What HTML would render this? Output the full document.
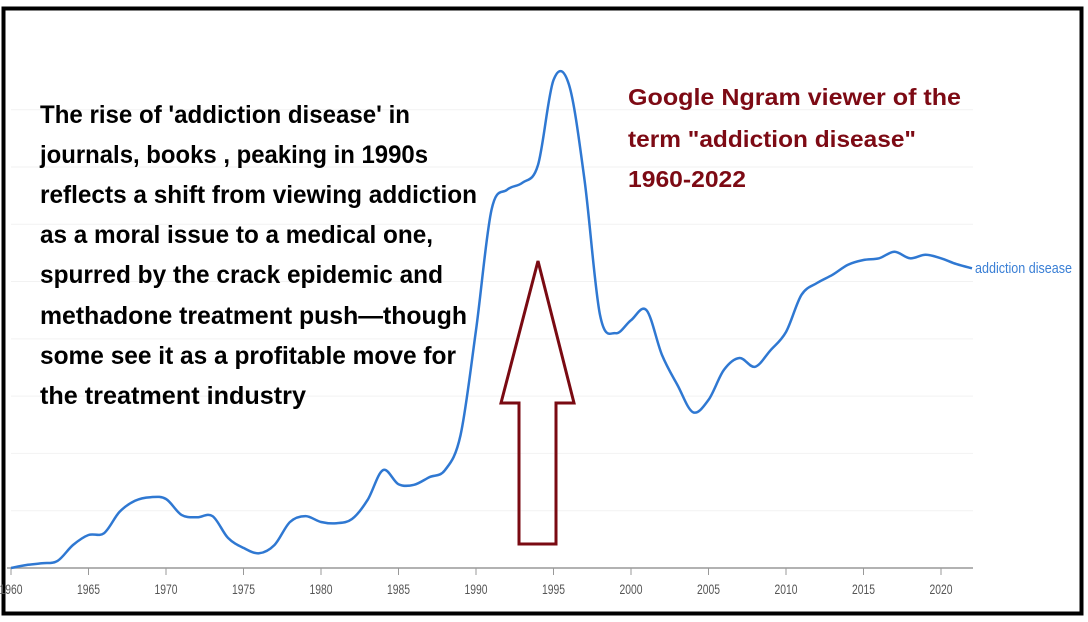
<!DOCTYPE html>
<html><head><meta charset="utf-8"><style>
html,body{margin:0;padding:0;background:#fff;}
svg{display:block;}
</style></head><body>
<svg id="chart" width="1088" height="622" xmlns="http://www.w3.org/2000/svg">
<rect x="3.5" y="8.5" width="1078" height="605" fill="#fff" stroke="#000" stroke-width="4"/>
<g id="grid"></g>
<g id="axis"></g>
<path id="series" fill="none" stroke="#2f78d2" stroke-width="2.5" stroke-linejoin="round"/>
<text x="975" y="273" font-family="Liberation Sans, sans-serif" font-size="15" fill="#3a7fd5" textLength="97" lengthAdjust="spacingAndGlyphs">addiction disease</text>
<path d="M538,261 L574,403 L556,403 L556,544 L519,544 L519,403 L501,403 Z" fill="none" stroke="#7a0a12" stroke-width="3" stroke-linejoin="miter"/>
<g font-family="Liberation Sans, sans-serif" font-weight="bold" font-size="25" fill="#000">
<text x="40" y="123" textLength="370" lengthAdjust="spacingAndGlyphs">The rise of 'addiction disease' in</text>
<text x="40" y="163" textLength="388" lengthAdjust="spacingAndGlyphs">journals, books , peaking in 1990s</text>
<text x="40" y="203" textLength="437" lengthAdjust="spacingAndGlyphs">reflects a shift from viewing addiction</text>
<text x="40" y="243" textLength="393" lengthAdjust="spacingAndGlyphs">as a moral issue to a medical one,</text>
<text x="40" y="283" textLength="403" lengthAdjust="spacingAndGlyphs">spurred by the crack epidemic and</text>
<text x="40" y="324" textLength="427" lengthAdjust="spacingAndGlyphs">methadone treatment push—though</text>
<text x="40" y="364" textLength="416" lengthAdjust="spacingAndGlyphs">some see it as a profitable move for</text>
<text x="40" y="404" textLength="266" lengthAdjust="spacingAndGlyphs">the treatment industry</text>
</g>
<g font-family="Liberation Sans, sans-serif" font-weight="bold" font-size="23" fill="#7d0a14">
<text x="628" y="105" textLength="333" lengthAdjust="spacingAndGlyphs">Google Ngram viewer of the</text>
<text x="628" y="147" textLength="288" lengthAdjust="spacingAndGlyphs">term "addiction disease"</text>
<text x="628" y="187" textLength="118" lengthAdjust="spacingAndGlyphs">1960-2022</text>
</g>
</svg>
<script>
const years = [];
for (let y = 1960; y <= 2022; y++) years.push(y);
const values = [0,0.05,0.08,0.12,0.39,0.56,0.59,0.95,1.14,1.20,
1.17,0.90,0.86,0.88,0.51,0.34,0.25,0.39,0.78,0.88,
0.78,0.76,0.83,1.15,1.66,1.42,1.41,1.54,1.66,2.25,
4.03,6.07,6.41,6.53,6.83,8.27,8.19,6.58,4.29,3.98,
4.20,4.37,3.61,3.10,2.64,2.85,3.36,3.56,3.41,3.69,
4.00,4.63,4.83,4.97,5.14,5.22,5.25,5.36,5.25,5.31,
5.25,5.15,5.08];
const xTicks = [1960,1965,1970,1975,1980,1985,1990,1995,2000,2005,2010,2015,2020];
const gridValues = [0.971,1.942,2.913,3.884,4.855,5.826,6.797,7.768];

const NS = "http://www.w3.org/2000/svg";
const x = yr => 11 + (yr - 1960) * 15.5;
const y = v => 568 - v * 59;

const grid = document.getElementById('grid');
gridValues.forEach(g => {
  const l = document.createElementNS(NS, 'line');
  
  
  l.setAttribute('x1', 11); l.setAttribute('x2', 973);
  l.setAttribute('y1', y(g)); l.setAttribute('y2', y(g));
  l.setAttribute('stroke', '#f2f2f2'); l.setAttribute('stroke-width', '1');
  grid.appendChild(l);
});

const axis = document.getElementById('axis');
const base = document.createElementNS(NS, 'line');


base.setAttribute('x1', 7); base.setAttribute('x2', 973);
base.setAttribute('y1', 568); base.setAttribute('y2', 568);
base.setAttribute('stroke', '#999'); base.setAttribute('stroke-width', '1.5');
axis.appendChild(base);
xTicks.forEach(t => {
  const tk = document.createElementNS(NS, 'line');
  
  
  tk.setAttribute('x1', x(t)); tk.setAttribute('x2', x(t));
  tk.setAttribute('y1', 568); tk.setAttribute('y2', 575);
  tk.setAttribute('stroke', '#999');
  axis.appendChild(tk);
  const tx = document.createElementNS(NS, 'text');
  
  
  tx.setAttribute('x', x(t)); tx.setAttribute('y', 594);
  tx.setAttribute('text-anchor', 'middle');
  tx.setAttribute('font-family', 'Liberation Sans, sans-serif');
  tx.setAttribute('font-size', '14');
  tx.setAttribute('fill', '#555');
  tx.setAttribute('textLength', '23');
  tx.setAttribute('lengthAdjust', 'spacingAndGlyphs');
  tx.textContent = String(t);
  axis.appendChild(tx);
});

const pts = years.map((yr, i) => [x(yr), y(values[i])]);
let d = `M${pts[0][0]},${pts[0][1]}`;
for (let i = 0; i < pts.length - 1; i++) {
  const p0 = pts[Math.max(0, i - 1)], p1 = pts[i], p2 = pts[i + 1], p3 = pts[Math.min(pts.length - 1, i + 2)];
  const c1x = p1[0] + (p2[0] - p0[0]) / 6, c1y = p1[1] + (p2[1] - p0[1]) / 6;
  const c2x = p2[0] - (p3[0] - p1[0]) / 6, c2y = p2[1] - (p3[1] - p1[1]) / 6;
  d += ` C${c1x.toFixed(1)},${c1y.toFixed(1)} ${c2x.toFixed(1)},${c2y.toFixed(1)} ${p2[0].toFixed(1)},${p2[1].toFixed(1)}`;
}
document.getElementById('series').setAttribute('d', d);
</script>
</body></html>
